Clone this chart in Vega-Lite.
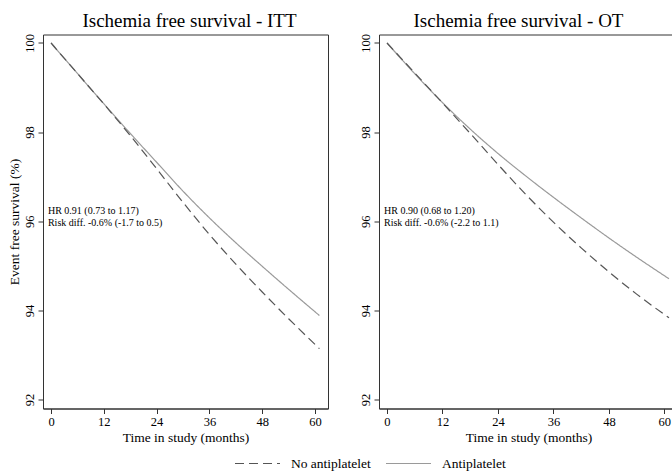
{
  "$schema": "https://vega.github.io/schema/vega-lite/v6.json",
  "padding": {"left": 6, "top": 10.5, "right": 0, "bottom": 0},
  "bounds": "flush",
  "spacing": 51,
  "config": {
    "font": "Liberation Serif",
    "view": {"stroke": "#333333", "strokeWidth": 1},
    "axis": {
      "domainColor": "#333333", "tickColor": "#333333", "tickSize": 5, "grid": false,
      "labelFont": "Liberation Serif", "titleFont": "Liberation Serif",
      "labelFontSize": 12.5, "titleFontSize": 13.5, "labelColor": "#000000", "titleColor": "#000000",
      "titleFontWeight": "normal", "labelPadding": 2, "titlePadding": 2
    },
    "title": {"font": "Liberation Serif", "fontSize": 19, "fontWeight": "normal", "color": "#000000", "baseline": "alphabetic", "offset": 3},
    "legend": {
      "orient": "none", "direction": "horizontal", "legendX": 191, "legendY": 405.5,
      "symbolType": "stroke", "symbolSize": 2025, "symbolStrokeWidth": 1.2,
      "labelFont": "Liberation Serif", "labelFontSize": 13.5, "labelColor": "#000000",
      "labelOffset": 10, "columnPadding": 12, "padding": 0
    }
  },
  "data": {"values": [
    {"panel": "ITT", "group": "Antiplatelet", "t": 0, "s": 100},
    {"panel": "ITT", "group": "Antiplatelet", "t": 6, "s": 99.316},
    {"panel": "ITT", "group": "Antiplatelet", "t": 12, "s": 98.638},
    {"panel": "ITT", "group": "Antiplatelet", "t": 18, "s": 97.972},
    {"panel": "ITT", "group": "Antiplatelet", "t": 24, "s": 97.324},
    {"panel": "ITT", "group": "Antiplatelet", "t": 30, "s": 96.676},
    {"panel": "ITT", "group": "Antiplatelet", "t": 36, "s": 96.076},
    {"panel": "ITT", "group": "Antiplatelet", "t": 42, "s": 95.518},
    {"panel": "ITT", "group": "Antiplatelet", "t": 48, "s": 94.99},
    {"panel": "ITT", "group": "Antiplatelet", "t": 54, "s": 94.474},
    {"panel": "ITT", "group": "Antiplatelet", "t": 61, "s": 93.886},
    {"panel": "ITT", "group": "No antiplatelet", "t": 0, "s": 100},
    {"panel": "ITT", "group": "No antiplatelet", "t": 6, "s": 99.316},
    {"panel": "ITT", "group": "No antiplatelet", "t": 12, "s": 98.632},
    {"panel": "ITT", "group": "No antiplatelet", "t": 18, "s": 97.924},
    {"panel": "ITT", "group": "No antiplatelet", "t": 24, "s": 97.18},
    {"panel": "ITT", "group": "No antiplatelet", "t": 30, "s": 96.424},
    {"panel": "ITT", "group": "No antiplatelet", "t": 36, "s": 95.704},
    {"panel": "ITT", "group": "No antiplatelet", "t": 42, "s": 95.038},
    {"panel": "ITT", "group": "No antiplatelet", "t": 48, "s": 94.414},
    {"panel": "ITT", "group": "No antiplatelet", "t": 54, "s": 93.814},
    {"panel": "ITT", "group": "No antiplatelet", "t": 61, "s": 93.142},
    {"panel": "OT", "group": "Antiplatelet", "t": 0, "s": 100},
    {"panel": "OT", "group": "Antiplatelet", "t": 6, "s": 99.31},
    {"panel": "OT", "group": "Antiplatelet", "t": 12, "s": 98.662},
    {"panel": "OT", "group": "Antiplatelet", "t": 18, "s": 98.068},
    {"panel": "OT", "group": "Antiplatelet", "t": 24, "s": 97.522},
    {"panel": "OT", "group": "Antiplatelet", "t": 30, "s": 97.018},
    {"panel": "OT", "group": "Antiplatelet", "t": 36, "s": 96.538},
    {"panel": "OT", "group": "Antiplatelet", "t": 42, "s": 96.076},
    {"panel": "OT", "group": "Antiplatelet", "t": 48, "s": 95.626},
    {"panel": "OT", "group": "Antiplatelet", "t": 54, "s": 95.194},
    {"panel": "OT", "group": "Antiplatelet", "t": 61, "s": 94.711},
    {"panel": "OT", "group": "No antiplatelet", "t": 0, "s": 100},
    {"panel": "OT", "group": "No antiplatelet", "t": 6, "s": 99.328},
    {"panel": "OT", "group": "No antiplatelet", "t": 12, "s": 98.656},
    {"panel": "OT", "group": "No antiplatelet", "t": 18, "s": 97.972},
    {"panel": "OT", "group": "No antiplatelet", "t": 24, "s": 97.276},
    {"panel": "OT", "group": "No antiplatelet", "t": 30, "s": 96.604},
    {"panel": "OT", "group": "No antiplatelet", "t": 36, "s": 95.98},
    {"panel": "OT", "group": "No antiplatelet", "t": 42, "s": 95.404},
    {"panel": "OT", "group": "No antiplatelet", "t": 48, "s": 94.864},
    {"panel": "OT", "group": "No antiplatelet", "t": 54, "s": 94.366},
    {"panel": "OT", "group": "No antiplatelet", "t": 61, "s": 93.834}
  ]},
  "resolve": {"scale": {"color": "shared", "strokeDash": "shared"}, "legend": {"color": "shared", "strokeDash": "shared"}},
  "hconcat": [
    {
      "width": 285, "height": 374,
      "title": {"text": "Ischemia free survival - ITT", "dx": 4},
      "layer": [
        {
          "transform": [{"filter": "datum.panel === 'ITT'"}],
          "mark": {"type": "line", "strokeWidth": 1.2, "interpolate": "monotone"},
          "encoding": {
            "x": {"field": "t", "type": "quantitative", "scale": {"domain": [-1.82, 62.95], "nice": false, "zero": false},
                  "axis": {"values": [0, 12, 24, 36, 48, 60], "title": "Time in study (months)"}},
            "y": {"field": "s", "type": "quantitative", "scale": {"domain": [91.8, 100.19], "nice": false, "zero": false},
                  "axis": {"values": [92, 94, 96, 98, 100], "title": "Event free survival (%)", "labelAngle": -90, "labelAlign": "center", "labelBaseline": "bottom"}},
            "color": {"field": "group", "type": "nominal", "scale": {"domain": ["No antiplatelet", "Antiplatelet"], "range": ["#555555", "#9a9a9a"]}, "legend": {"title": null}},
            "strokeDash": {"field": "group", "type": "nominal", "scale": {"domain": ["No antiplatelet", "Antiplatelet"], "range": [[9, 5], [1, 0]]}, "legend": {"title": null}}
          }
        },
        {
          "data": {"values": [{"label": "HR 0.91 (0.73 to 1.17)\nRisk diff. -0.6% (-1.7 to 0.5)"}]},
          "mark": {"type": "text", "align": "left", "baseline": "middle", "fontSize": 10, "lineBreak": "\n", "lineHeight": 12, "color": "#000000"},
          "encoding": {
            "x": {"datum": -0.7, "type": "quantitative", "scale": {"domain": [-1.82, 62.95], "nice": false, "zero": false}},
            "y": {"datum": 96.24, "type": "quantitative", "scale": {"domain": [91.8, 100.19], "nice": false, "zero": false}},
            "text": {"field": "label"}
          }
        }
      ]
    },
    {
      "width": 299, "height": 374,
      "title": {"text": "Ischemia free survival - OT", "dx": -10},
      "layer": [
        {
          "transform": [{"filter": "datum.panel === 'OT'"}],
          "mark": {"type": "line", "strokeWidth": 1.2, "interpolate": "monotone"},
          "encoding": {
            "x": {"field": "t", "type": "quantitative", "scale": {"domain": [-1.73, 62.95], "nice": false, "zero": false},
                  "axis": {"values": [0, 12, 24, 36, 48, 60], "title": "Time in study (months)"}},
            "y": {"field": "s", "type": "quantitative", "scale": {"domain": [91.8, 100.19], "nice": false, "zero": false},
                  "axis": {"values": [92, 94, 96, 98, 100], "title": null, "labelAngle": -90, "labelAlign": "center", "labelBaseline": "bottom"}},
            "color": {"field": "group", "type": "nominal", "scale": {"domain": ["No antiplatelet", "Antiplatelet"], "range": ["#555555", "#9a9a9a"]}, "legend": {"title": null}},
            "strokeDash": {"field": "group", "type": "nominal", "scale": {"domain": ["No antiplatelet", "Antiplatelet"], "range": [[9, 5], [1, 0]]}, "legend": {"title": null}}
          }
        },
        {
          "data": {"values": [{"label": "HR 0.90 (0.68 to 1.20)\nRisk diff. -0.6% (-2.2 to 1.1)"}]},
          "mark": {"type": "text", "align": "left", "baseline": "middle", "fontSize": 10, "lineBreak": "\n", "lineHeight": 12, "color": "#000000"},
          "encoding": {
            "x": {"datum": -0.65, "type": "quantitative", "scale": {"domain": [-1.73, 62.95], "nice": false, "zero": false}},
            "y": {"datum": 96.24, "type": "quantitative", "scale": {"domain": [91.8, 100.19], "nice": false, "zero": false}},
            "text": {"field": "label"}
          }
        }
      ]
    }
  ]
}
